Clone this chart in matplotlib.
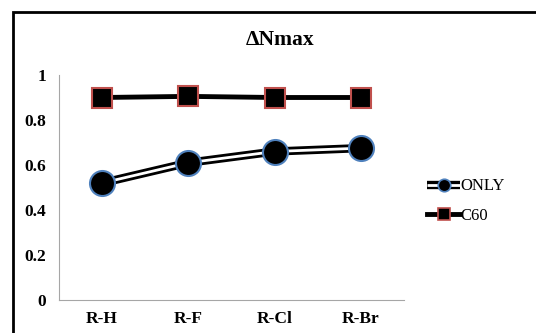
import matplotlib.pyplot as plt
from matplotlib.patches import Rectangle

categories = ['R-H', 'R-F', 'R-Cl', 'R-Br']
only_vals = [0.52, 0.61, 0.66, 0.675]
c60_vals = [0.90, 0.905, 0.90, 0.90]
yticks = [0, 0.2, 0.4, 0.6, 0.8, 1]
ytick_labels = ['0', '0.2', '0.4', '0.6', '0.8', '1']

plt.rcParams['font.family'] = ['Liberation Serif', 'DejaVu Serif']

fig = plt.figure(figsize=(5.36, 3.33), dpi=100)
ax = fig.add_axes([59 / 536, 1 - 300 / 333, 345 / 536, 225 / 333])

x = range(len(categories))

# ONLY: double line (black outline with white core)
ax.plot(x, only_vals, color='black', lw=6, solid_capstyle='butt', zorder=2)
ax.plot(x, only_vals, color='white', lw=2, solid_capstyle='butt', zorder=3)
ax.plot(x, only_vals, ls='none', marker='o', ms=18, mfc='black',
        mec='#4f81bd', mew=1.5, zorder=4)

# C60: solid thick line with square markers
ax.plot(x, c60_vals, color='black', lw=3.5, zorder=2)
ax.plot(x, c60_vals, ls='none', marker='s', ms=14.5, mfc='black',
        mec='#c0504d', mew=1.5, zorder=4)

ax.set_xlim(-0.5, len(categories) - 0.5)
ax.set_ylim(0, 1)
ax.set_xticks(list(x))
ax.set_xticklabels(categories, fontsize=12.5, fontweight='bold')
ax.set_yticks(yticks)
ax.set_yticklabels(ytick_labels, fontsize=12.5, fontweight='bold')
ax.tick_params(length=0, pad=9)
ax.tick_params(axis='x', pad=8)

for side in ['top', 'right']:
    ax.spines[side].set_visible(False)
ax.spines['left'].set_color('#a6a6a6')
ax.spines['bottom'].set_color('#a6a6a6')
ax.spines['left'].set_linewidth(0.8)
ax.spines['bottom'].set_linewidth(0.8)

fig.text(280 / 536, 1 - 40 / 333, '\u0394Nmax', ha='center', va='center',
         fontsize=15.5, fontweight='bold')

# legend handles
h_only = (plt.Line2D([], [], color='black', lw=6, solid_capstyle='butt'),
          plt.Line2D([], [], color='white', lw=2, solid_capstyle='butt'),
          plt.Line2D([], [], ls='none', marker='o', ms=9, mfc='black',
                     mec='#4f81bd', mew=1.2))
h_c60 = (plt.Line2D([], [], color='black', lw=3.5),
         plt.Line2D([], [], ls='none', marker='s', ms=9, mfc='black',
                    mec='#c0504d', mew=1.2))
fig.legend([h_only, h_c60], ['ONLY', 'C60'], loc='center left',
           bbox_to_anchor=(412 / 536, 1 - 201 / 333), frameon=False,
           fontsize=12, handlelength=2.0, handletextpad=0.0,
           labelspacing=0.8)

# outer chart frame (cut off on right and bottom)
fig.patches.append(Rectangle((13 / 536, -0.1), 1.2, 1 - 12 / 333 + 0.1,
                             transform=fig.transFigure, fill=False,
                             edgecolor='black', lw=2))

fig.savefig('out.png', dpi=100)
